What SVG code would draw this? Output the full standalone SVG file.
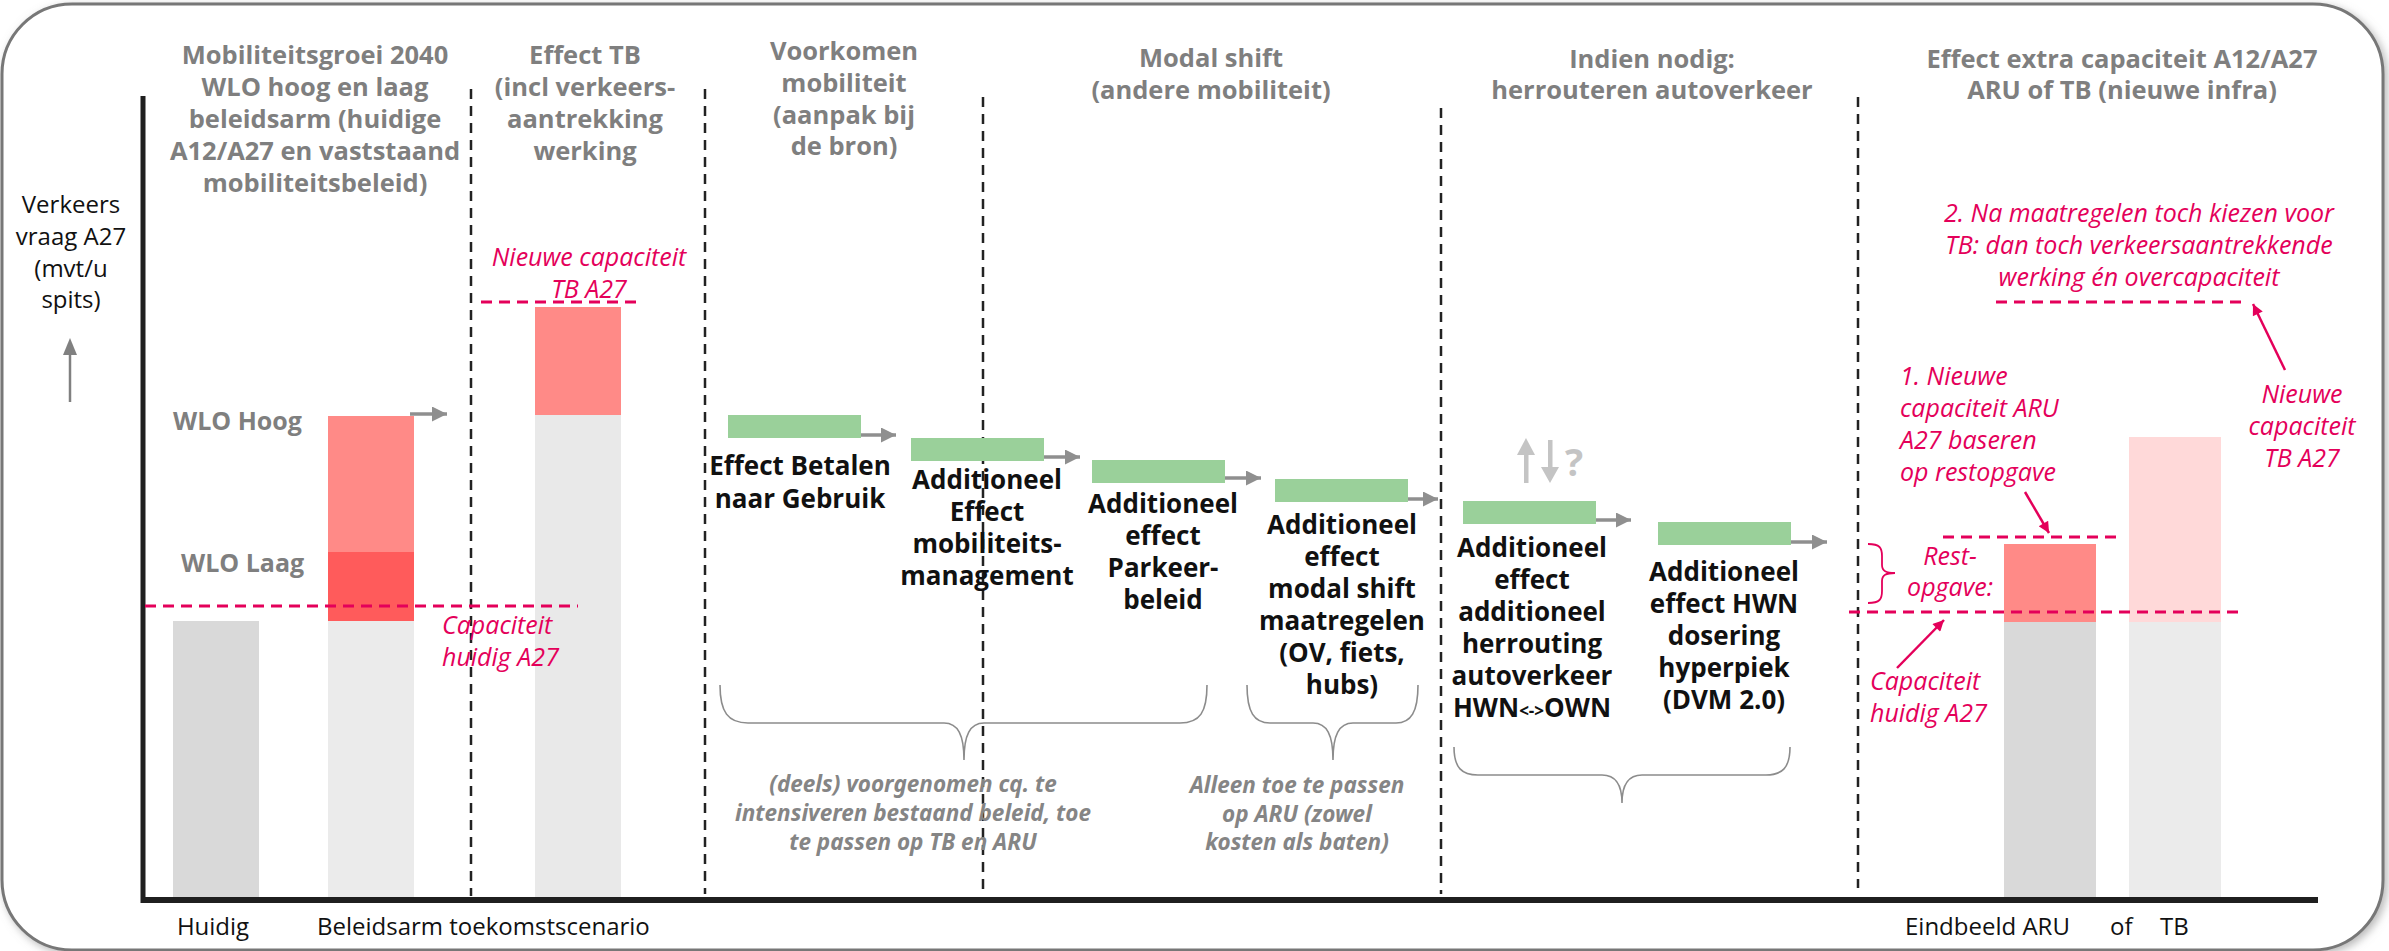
<svg xmlns="http://www.w3.org/2000/svg" width="2389" height="951" viewBox="0 0 2389 951">
<defs>
<style>
text{font-family:"Open Sans","Noto Sans","Liberation Sans",sans-serif}
.hdr{font-weight:bold;fill:#7f7f7f;font-size:25.5px;text-anchor:middle}
.lbl{font-weight:bold;fill:#111;font-size:26px;text-anchor:middle}
.note{font-family:"Noto Sans","Open Sans","Liberation Sans",sans-serif;font-weight:bold;font-style:italic;fill:#858585;font-size:22.5px;text-anchor:middle}
.pink{font-style:italic;fill:#e4005a;font-size:25px}
.ax{fill:#111;font-size:24px}
.wlo{font-weight:bold;fill:#7f7f7f;font-size:25px}
.div{stroke:#222;stroke-width:2.5;stroke-dasharray:10 7;fill:none}
.pdash{stroke:#e4005a;stroke-width:3;stroke-dasharray:11 7;fill:none}
.green{fill:#9ad09a}
.garr{stroke:#8f8f8f;stroke-width:3.5;fill:none;marker-end:url(#gh)}
.parr{stroke:#e4005a;stroke-width:2.5;fill:none;marker-end:url(#ph)}
.brace{stroke:#8c8c8c;stroke-width:1.6;fill:none}
</style>
<marker id="gh" viewBox="0 0 10 10" refX="10" refY="5" markerWidth="15" markerHeight="15" markerUnits="userSpaceOnUse" orient="auto"><path d="M0,0 L10,5 L0,10 z" fill="#8f8f8f"/></marker>
<marker id="ph" viewBox="0 0 10 10" refX="10" refY="5" markerWidth="13" markerHeight="11" markerUnits="userSpaceOnUse" orient="auto"><path d="M0,0 L10,5 L0,10 z" fill="#e4005a"/></marker>
<filter id="sh" x="-5%" y="-5%" width="110%" height="110%"><feDropShadow dx="3" dy="3" stdDeviation="4" flood-color="#888" flood-opacity="0.6"/></filter>
</defs>
<rect x="0" y="0" width="2389" height="951" fill="#fff"/>
<rect x="2" y="4" width="2381" height="946" rx="70" ry="70" fill="#fff" stroke="#777" stroke-width="3" filter="url(#sh)"/>

<g id="axes">
<line x1="143" y1="96" x2="143" y2="903" stroke="#1f1f1f" stroke-width="5"/>
<line x1="141" y1="900" x2="2318" y2="900" stroke="#1f1f1f" stroke-width="6"/>
<line x1="70" y1="402" x2="70" y2="354" stroke="#808080" stroke-width="2.5"/>
<path d="M63,355 L70,338 L77,355 z" fill="#808080"/>
<text class="ax" text-anchor="middle"><tspan x="71" y="213">Verkeers</tspan><tspan x="71" y="245">vraag A27</tspan><tspan x="71" y="277">(mvt/u</tspan><tspan x="71" y="308">spits)</tspan></text>
<text class="ax" x="213" y="935" text-anchor="middle">Huidig</text>
<text class="ax" x="317" y="935" font-size="25.5px">Beleidsarm toekomstscenario</text>
<text class="ax" x="1905" y="935">Eindbeeld ARU</text>
<text class="ax" x="2110" y="935">of</text>
<text class="ax" x="2160" y="935">TB</text>
</g>

<g id="headers">
<text class="hdr"><tspan x="315" y="64">Mobiliteitsgroei 2040</tspan><tspan x="315" y="96">WLO hoog en laag</tspan><tspan x="315" y="128">beleidsarm (huidige</tspan><tspan x="315" y="160">A12/A27 en vaststaand</tspan><tspan x="315" y="192">mobiliteitsbeleid)</tspan></text>
<text class="hdr"><tspan x="585" y="64">Effect TB</tspan><tspan x="585" y="96">(incl verkeers-</tspan><tspan x="585" y="128">aantrekking</tspan><tspan x="585" y="160">werking</tspan></text>
<text class="hdr"><tspan x="844" y="60">Voorkomen</tspan><tspan x="844" y="92">mobiliteit</tspan><tspan x="844" y="124">(aanpak bij</tspan><tspan x="844" y="155">de bron)</tspan></text>
<text class="hdr"><tspan x="1211" y="67">Modal shift</tspan><tspan x="1211" y="99">(andere mobiliteit)</tspan></text>
<text class="hdr"><tspan x="1652" y="68">Indien nodig:</tspan><tspan x="1652" y="99">herrouteren autoverkeer</tspan></text>
<text class="hdr"><tspan x="2122" y="68">Effect extra capaciteit A12/A27</tspan><tspan x="2122" y="99">ARU of TB (nieuwe infra)</tspan></text>
</g>

<g id="dividers">
<line class="div" x1="471" y1="89" x2="471" y2="896"/>
<line class="div" x1="705" y1="89" x2="705" y2="894"/>
<line class="div" x1="983" y1="97" x2="983" y2="890"/>
<line class="div" x1="1441" y1="108" x2="1441" y2="894"/>
<line class="div" x1="1858" y1="97" x2="1858" y2="888"/>
</g>

<g id="bar-huidig">
<rect x="173" y="621" width="86" height="276" fill="#d9d9d9"/>
</g>
<g id="bar-beleidsarm">
<rect x="328" y="621" width="86" height="276" fill="#ebebeb"/>
<rect x="328" y="552" width="86" height="69" fill="#ff5b5b"/>
<rect x="328" y="416" width="86" height="136" fill="#ff8a87"/>
<text class="wlo" x="173" y="430">WLO Hoog</text>
<text class="wlo" x="181" y="572">WLO Laag</text>
</g>
<g id="bar-tb">
<rect x="535" y="415" width="86" height="482" fill="#e9e9e9"/>
<rect x="535" y="307" width="86" height="108" fill="#ff8a87"/>
<text class="pink" text-anchor="middle"><tspan x="589" y="266">Nieuwe capaciteit</tspan><tspan x="589" y="298">TB A27</tspan></text>
<line class="pdash" x1="481" y1="302" x2="641" y2="302"/>
</g>
<g id="capaciteit-huidig">
<line class="pdash" x1="145" y1="606" x2="578" y2="606"/>
<text class="pink"><tspan x="442" y="634">Capaciteit</tspan><tspan x="442" y="666">huidig A27</tspan></text>
</g>

<g id="step-betalen">
<rect class="green" x="728" y="415" width="133" height="23"/>
<text class="lbl"><tspan x="800" y="475">Effect Betalen</tspan><tspan x="800" y="508">naar Gebruik</tspan></text>
</g>
<g id="step-mobiliteitsmanagement">
<rect class="green" x="911" y="438" width="133" height="23"/>
<text class="lbl"><tspan x="987" y="489">Additioneel</tspan><tspan x="987" y="521">Effect</tspan><tspan x="987" y="553">mobiliteits-</tspan><tspan x="987" y="585">management</tspan></text>
</g>
<g id="step-parkeer">
<rect class="green" x="1092" y="460" width="133" height="23"/>
<text class="lbl"><tspan x="1163" y="513">Additioneel</tspan><tspan x="1163" y="545">effect</tspan><tspan x="1163" y="577">Parkeer-</tspan><tspan x="1163" y="609">beleid</tspan></text>
</g>
<g id="step-modalshift">
<rect class="green" x="1275" y="479" width="133" height="23"/>
<text class="lbl"><tspan x="1342" y="534">Additioneel</tspan><tspan x="1342" y="566">effect</tspan><tspan x="1342" y="598">modal shift</tspan><tspan x="1342" y="630">maatregelen</tspan><tspan x="1342" y="662">(OV, fiets,</tspan><tspan x="1342" y="694">hubs)</tspan></text>
</g>
<g id="step-herrouting">
<rect class="green" x="1463" y="501" width="133" height="23"/>
<text class="lbl"><tspan x="1532" y="557">Additioneel</tspan><tspan x="1532" y="589">effect</tspan><tspan x="1532" y="621">additioneel</tspan><tspan x="1532" y="653">herrouting</tspan><tspan x="1532" y="685">autoverkeer</tspan><tspan x="1532" y="717">HWN<tspan font-size="17px">&lt;-&gt;</tspan>OWN</tspan></text>
<g id="updown-icon" fill="#c4c4c4">
<rect x="1524" y="452" width="4.5" height="31"/>
<path d="M1517,455 L1526,438 L1535,455 z"/>
<rect x="1548" y="440" width="4.5" height="28"/>
<path d="M1541,467 L1550,483 L1559,467 z"/>
<text x="1574" y="476" font-size="38px" font-weight="bold" text-anchor="middle" fill="#c4c4c4">?</text>
</g>
</g>
<g id="step-dosering">
<rect class="green" x="1658" y="522" width="133" height="23"/>
<text class="lbl"><tspan x="1724" y="581">Additioneel</tspan><tspan x="1724" y="613">effect HWN</tspan><tspan x="1724" y="645">dosering</tspan><tspan x="1724" y="677">hyperpiek</tspan><tspan x="1724" y="709">(DVM 2.0)</tspan></text>
</g>

<g id="braces">
<path class="brace" d="M720,685 C720,712 728,723 748,723 L944,723 C958,723 964,735 964,760 C964,735 970,723 984,723 L1180,723 C1200,723 1207,712 1207,685"/>
<path class="brace" d="M1247,685 C1247,712 1254,723 1270,723 L1313,723 C1327,723 1333,735 1333,760 C1333,735 1339,723 1353,723 L1396,723 C1411,723 1418,712 1418,685"/>
<path class="brace" d="M1454,747 C1454,768 1462,775 1478,775 L1602,775 C1616,775 1622,785 1622,803 C1622,785 1628,775 1642,775 L1766,775 C1782,775 1790,768 1790,747"/>
<text class="note"><tspan x="913" y="792">(deels) voorgenomen cq. te</tspan><tspan x="913" y="821">intensiveren bestaand beleid, toe</tspan><tspan x="913" y="850">te passen op TB en ARU</tspan></text>
<text class="note"><tspan x="1297" y="793">Alleen toe te passen</tspan><tspan x="1297" y="822">op ARU (zowel</tspan><tspan x="1297" y="850">kosten als baten)</tspan></text>
</g>

<g id="bar-aru">
<rect x="2004" y="622" width="92" height="275" fill="#d9d9d9"/>
<rect x="2004" y="544" width="92" height="78" fill="#ff8a87"/>
</g>
<g id="bar-tb-eind">
<rect x="2129" y="622" width="92" height="275" fill="#ebebeb"/>
<rect x="2129" y="437" width="92" height="185" fill="#ffd9d9"/>
</g>
<g id="annotations-right">
<text class="pink" text-anchor="middle"><tspan x="2139" y="222">2. Na maatregelen toch kiezen voor</tspan><tspan x="2139" y="254">TB: dan toch verkeersaantrekkende</tspan><tspan x="2139" y="286">werking én overcapaciteit</tspan></text>
<line class="pdash" x1="1996" y1="302" x2="2245" y2="302"/>
<text class="pink"><tspan x="1900" y="385">1. Nieuwe</tspan><tspan x="1900" y="417">capaciteit ARU</tspan><tspan x="1900" y="449">A27 baseren</tspan><tspan x="1900" y="481">op restopgave</tspan></text>
<text class="pink" text-anchor="middle"><tspan x="2302" y="403">Nieuwe</tspan><tspan x="2302" y="435">capaciteit</tspan><tspan x="2302" y="467">TB A27</tspan></text>
<line class="pdash" x1="1943" y1="537" x2="2122" y2="537"/>
<line class="pdash" x1="1849" y1="612" x2="2245" y2="612"/>
<path d="M1868,544 C1880,544 1882,548 1882,556 L1882,565 C1882,571 1886,573 1895,573 C1886,573 1882,575 1882,581 L1882,591 C1882,599 1880,603 1868,603" fill="none" stroke="#e4005a" stroke-width="1.8"/>
<text class="pink" text-anchor="middle"><tspan x="1950" y="565">Rest-</tspan><tspan x="1950" y="596">opgave:</tspan></text>
<text class="pink"><tspan x="1870" y="690">Capaciteit</tspan><tspan x="1870" y="722">huidig A27</tspan></text>
</g>

<g id="connectors">
<line class="garr" x1="410" y1="414" x2="447" y2="414"/>
<line class="garr" x1="861" y1="435" x2="896" y2="435"/>
<line class="garr" x1="1044" y1="457" x2="1080" y2="457"/>
<line class="garr" x1="1225" y1="478" x2="1261" y2="478"/>
<line class="garr" x1="1408" y1="499" x2="1438" y2="499"/>
<line class="garr" x1="1596" y1="520" x2="1631" y2="520"/>
<line class="garr" x1="1791" y1="542" x2="1827" y2="542"/>
<line class="parr" x1="2285" y1="370" x2="2253" y2="304"/>
<line class="parr" x1="2025" y1="492" x2="2049" y2="533"/>
<line class="parr" x1="1897" y1="668" x2="1944" y2="620"/>
</g>
</svg>
